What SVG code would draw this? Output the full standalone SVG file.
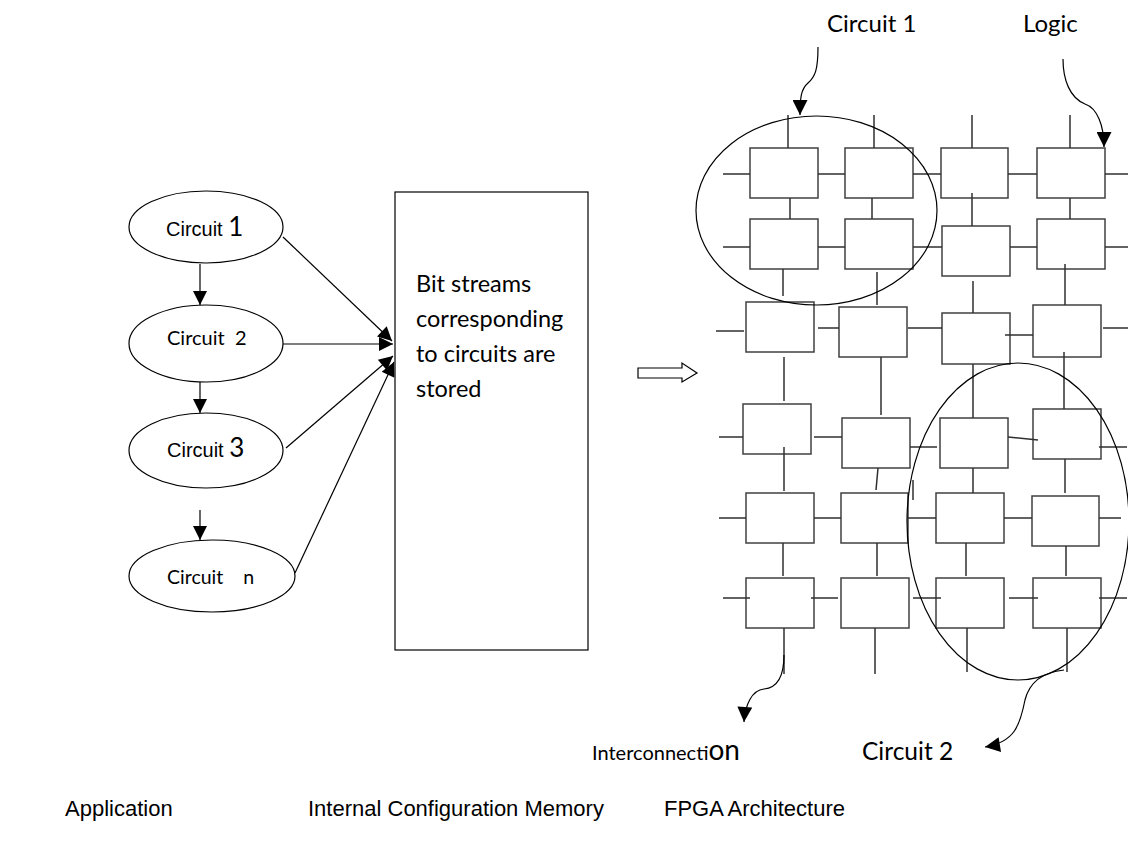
<svg xmlns="http://www.w3.org/2000/svg" width="1128" height="850" viewBox="0 0 1128 850">
<style>
.s{fill:none;stroke:#000;stroke-width:1.2}
.g{fill:#fff;stroke:#404040;stroke-width:1.5}
.gl{fill:none;stroke:#303030;stroke-width:1.5}
.a{font-family:"Liberation Sans",Arial,sans-serif;fill:#000}
.c{font-family:Lato,"Noto Sans",sans-serif;fill:#000}
</style>
<defs>
<marker id="ah" viewBox="0 0 10 10" refX="10" refY="5" markerWidth="16" markerHeight="14" markerUnits="userSpaceOnUse" orient="auto"><path d="M0,0 L10,5 L0,10 z" fill="#000"/></marker>
<marker id="ah2" viewBox="0 0 10 10" refX="10" refY="5" markerWidth="16" markerHeight="15" markerUnits="userSpaceOnUse" orient="auto"><path d="M0,0 L10,5 L0,10 z" fill="#000"/></marker>
</defs>

<g id="circuit1"><ellipse class="s" cx="206" cy="227" rx="77" ry="36"/><text x="166" y="236"><tspan class="a" font-size="20">Circuit </tspan><tspan class="c" font-size="26">1</tspan></text></g>
<g id="circuit2"><ellipse class="s" cx="206" cy="343.5" rx="77" ry="38.5"/><text class="c" x="167" y="345" font-size="20" xml:space="preserve">Circuit  2</text></g>
<g id="circuit3"><ellipse class="s" cx="206" cy="450.5" rx="77" ry="37.5"/><text x="167" y="457"><tspan class="a" font-size="20">Circuit </tspan><tspan class="c" font-size="26">3</tspan></text></g>
<g id="circuitn"><ellipse class="s" cx="212" cy="576" rx="83" ry="36"/><text class="c" x="167" y="584" font-size="19.5" xml:space="preserve">Circuit    n</text></g>

<g id="memory"><rect class="s" x="395" y="192" width="193" height="458"/>
<text class="c" font-size="23.5"><tspan x="416" y="292">Bit streams</tspan><tspan x="416" y="327">corresponding</tspan><tspan x="416" y="362">to circuits are</tspan><tspan x="416" y="397">stored</tspan></text></g>

<g id="bigarrow"><polygon class="s" points="638,368 682,368 682,363 697,373 682,382 682,378 638,378"/></g>

<g id="fpga">
<g id="cells">
<rect class="g" x="750" y="148" width="68" height="50"/><rect class="g" x="845" y="148" width="68" height="50"/><rect class="g" x="941" y="148" width="67" height="50"/><rect class="g" x="1037" y="148" width="68" height="50"/>
<rect class="g" x="750" y="219" width="68" height="50"/><rect class="g" x="845" y="219" width="68" height="50"/><rect class="g" x="942" y="226" width="68" height="50"/><rect class="g" x="1037" y="219" width="68" height="50"/>
<rect class="g" x="746" y="302" width="68" height="50"/><rect class="g" x="839" y="307" width="68" height="50"/><rect class="g" x="942" y="313" width="68" height="51"/><rect class="g" x="1033" y="305" width="68" height="52"/>
<rect class="g" x="743" y="404" width="68" height="50"/><rect class="g" x="842" y="418" width="68" height="50"/><rect class="g" x="940" y="418" width="68" height="50"/><rect class="g" x="1033" y="409" width="68" height="50"/>
<rect class="g" x="746" y="493" width="68" height="50"/><rect class="g" x="841" y="493" width="67" height="50"/><rect class="g" x="936" y="493" width="68" height="50"/><rect class="g" x="1032" y="496" width="67" height="50"/>
<rect class="g" x="746" y="578" width="68" height="50"/><rect class="g" x="841" y="578" width="68" height="50"/><rect class="g" x="936" y="578" width="68" height="50"/><rect class="g" x="1033" y="578" width="68" height="50"/>
</g>
<path class="gl" d="M788,115V148M874,115V148M972,115V148M1070,115V148
M723,174H750M818,174H845M913,174H941M1008,174H1037M1105,174H1128
M790,198V219M872,198V219M972,193V226M1070,198V219
M723,247H750M818,247H845M913,247H942M1010,247H1037M1105,247H1128
M783,269V296M877,272V305M973,281V313M1065,264V305
M716,331H744M818,328H839M908,328H942M1005,335H1033M1103,328H1128
M784,357V401M881,357V415M973,364V418M1064,352V409
M719,437H743M814,437H842M910,447H937M1008,437L1038,440M1099,447H1127
M784,447V491M878,468L876,490M973,468V493M1065,459V493M913,480V500
M719,518H746M814,518H841M908,518H936M1004,518H1032M1099,518H1121
M783,543V576M877,543V576M966,543V576M1066,546V576
M723,598H750M811,598H838M913,598H941M1009,598H1038M1099,598H1127
M784,628V674M875,628V674M967,628V672M1067,628V672"/>
<ellipse class="s" cx="816.5" cy="210.5" rx="120.5" ry="94.5"/>
<ellipse class="s" cx="1018" cy="521.5" rx="111" ry="158.5"/>
</g>

<g id="connectors">
<line class="s" x1="200" y1="264" x2="200" y2="305" marker-end="url(#ah)"/>
<line class="s" x1="200" y1="382" x2="200" y2="413" marker-end="url(#ah)"/>
<line class="s" x1="200" y1="510" x2="200" y2="540" marker-end="url(#ah)"/>
<line class="s" x1="283" y1="237" x2="392" y2="341" marker-end="url(#ah)"/>
<line class="s" x1="283" y1="344" x2="393" y2="344" marker-end="url(#ah)"/>
<line class="s" x1="286" y1="448" x2="393" y2="356" marker-end="url(#ah)"/>
<line class="s" x1="295" y1="573" x2="394" y2="362" marker-end="url(#ah)"/>
<path class="s" d="M818,47 C818,70 815,77 808,83 C801,89 800,98 800,115" marker-end="url(#ah2)"/>
<path class="s" d="M1063,59 C1063,80 1070,98 1085,104 C1097,108 1104,125 1104,147" marker-end="url(#ah2)"/>
<path class="s" d="M784,655 C784,680 775,688 764,689 C752,690 745,705 744,722" marker-end="url(#ah2)"/>
<path class="s" d="M1064,670 C1045,672 1030,680 1025,700 C1020,725 1015,742 985,747" marker-end="url(#ah2)"/>
</g>

<g id="labels">
<text class="c" x="827" y="32" font-size="24">Circuit 1</text>
<text class="c" x="1023" y="32" font-size="24">Logic</text>
<text x="592" y="760"><tspan class="c" font-size="20">Interconnecti</tspan><tspan class="c" font-size="28">on</tspan></text>
<text class="c" x="862" y="760" font-size="24.5">Circuit 2</text>
<text class="a" x="65" y="816" font-size="22">Application</text>
<text class="a" x="308" y="816" font-size="22">Internal Configuration Memory</text>
<text class="a" x="664" y="816" font-size="22">FPGA Architecture</text>
</g>
</svg>
